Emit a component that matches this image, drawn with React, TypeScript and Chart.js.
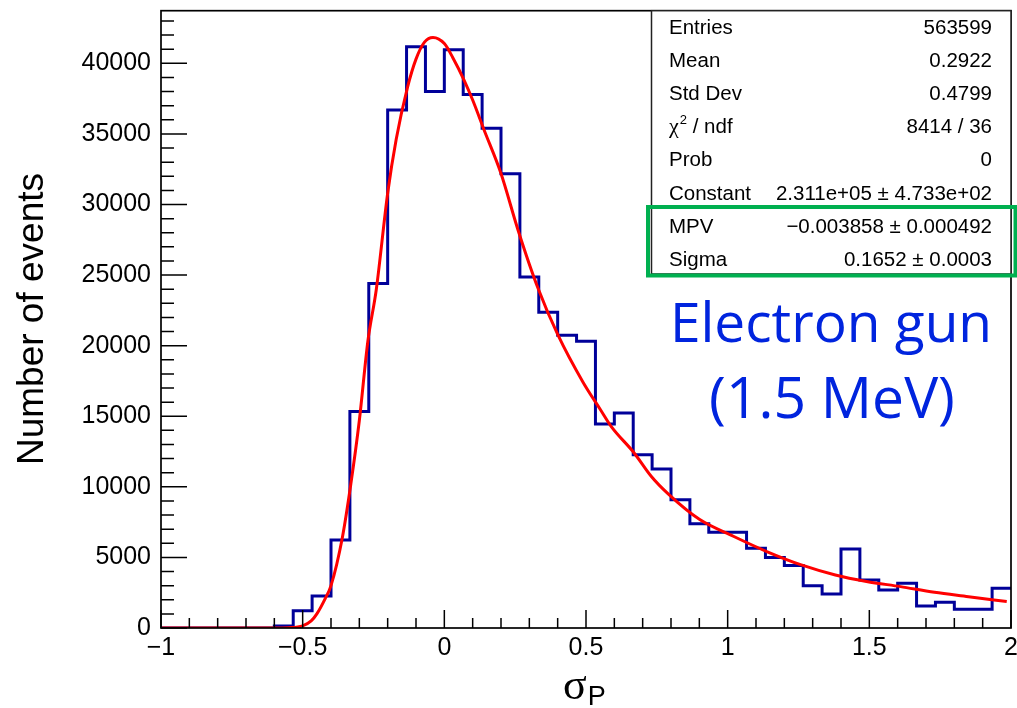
import React, { useEffect, useRef } from "react";
import { Chart, registerables } from "chart.js";

Chart.register(...registerables);

// ---------- data ----------
const X_MIN = -1;
const X_MAX = 2;
const Y_MAX = 43730;
const BIN_WIDTH = 1 / 15;

// histogram bin contents (45 bins of width 1/15 from -1 to 2)
const binCounts = [
  0, 0, 0, 0, 0, 0, 150, 1230, 2270, 6240,
  15340, 24400, 36700, 41180, 38010, 40970, 37800, 35410, 32180, 24870,
  22370, 20730, 20310, 14450, 15230, 12270, 11260, 9080, 7380, 6790,
  6790, 5650, 4990, 4420, 3000, 2410, 5600, 3400, 2700, 3170,
  1560, 1820, 1330, 1330, 2815,
];

// Landau fit curve
const fitX = [
  -1.0, -0.6, -0.55, -0.5, -0.47, -0.45, -0.42, -0.4, -0.36, -0.33,
  -0.3, -0.27, -0.24, -0.2, -0.17, -0.13, -0.1, -0.07, -0.04, 0.0,
  0.03, 0.07, 0.1, 0.14, 0.2, 0.26, 0.33, 0.4, 0.49, 0.55,
  0.59, 0.67, 0.73, 0.79, 0.9, 1.02, 1.14, 1.26, 1.38, 1.49,
  1.61, 1.73, 1.85, 1.985,
];
const fitY = [
  0, 0, 20, 150, 500, 1000, 2100, 3000, 6400, 10200,
  14700, 20300, 24000, 30800, 34600, 38300, 40300, 41500, 41830, 41400,
  40400, 38800, 37400, 35300, 32200, 28200, 24100, 20800, 17400, 15500,
  14250, 12400, 10750, 9500, 7700, 6500, 5400, 4470, 3760, 3300,
  2930, 2530, 2220, 1870,
];

const yTickValues = [0, 5000, 10000, 15000, 20000, 25000, 30000, 35000, 40000];
const xTickValues = [-1, -0.5, 0, 0.5, 1, 1.5, 2];
const yMinorStep = 1000;
const xMinorStep = 0.1;

const statsLabels = ["Entries", "Mean", "Std Dev", "CHI2", "Prob", "Constant", "MPV", "Sigma"];
const statsValues = [
  "563599",
  "0.2922",
  "0.4799",
  "8414 / 36",
  "0",
  "2.311e+05 \u00b1 4.733e+02",
  "\u22120.003858 \u00b1 0.000492",
  "0.1652 \u00b1 0.0003",
];

const annotationLines = ["Electron gun", "(1.5 MeV)"];
const yTitle = "Number of events";
const xTitleMain = "\u03c3";
const xTitleSub = "P";

const SANS = '"Liberation Sans", Arial, Helvetica, sans-serif';
const SERIF = '"Liberation Serif", "DejaVu Serif", serif';

const rootPlugin = {
  id: "rootDecor",
  afterDatasetsDraw(chart: any) {
    const ctx: CanvasRenderingContext2D = chart.ctx;
    const xs = chart.scales.x;
    const ys = chart.scales.y;
    const { left, right, top, bottom } = chart.chartArea;
    ctx.save();

    // ticks
    ctx.strokeStyle = "#000";
    ctx.lineWidth = 1.5;
    ctx.beginPath();
    const nY = Math.floor(Y_MAX / yMinorStep + 1e-9);
    for (let i = 0; i <= nY; i++) {
      const v = i * yMinorStep;
      const py = ys.getPixelForValue(v);
      const len = yTickValues.includes(v) ? 26 : 13;
      ctx.moveTo(left, py);
      ctx.lineTo(left + len, py);
    }
    const nX = Math.round((X_MAX - X_MIN) / xMinorStep);
    for (let i = 0; i <= nX; i++) {
      const v = X_MIN + i * xMinorStep;
      const px = xs.getPixelForValue(v);
      const len = i % 5 === 0 ? 18 : 10;
      ctx.moveTo(px, bottom);
      ctx.lineTo(px, bottom - len);
    }
    ctx.stroke();

    // frame
    ctx.lineWidth = 1.7;
    ctx.strokeRect(left, top, right - left, bottom - top);

    // stats box
    const bx = 651.5;
    const by = top;
    const bw = right - bx;
    const bh = 274 - top;
    ctx.fillStyle = "#fff";
    ctx.fillRect(bx, by, bw, bh);
    ctx.strokeStyle = "#222";
    ctx.lineWidth = 1.5;
    ctx.strokeRect(bx, by, bw, bh);

    ctx.fillStyle = "#000";
    const statFont = `20.5px ${SANS}`;
    ctx.font = statFont;
    ctx.textBaseline = "alphabetic";
    for (let i = 0; i < statsLabels.length; i++) {
      const yb = 34 + i * 33.1;
      ctx.textAlign = "left";
      if (statsLabels[i] === "CHI2") {
        ctx.font = `22px ${SERIF}`;
        ctx.fillText("\u03c7", 669, yb);
        const w1 = ctx.measureText("\u03c7").width;
        ctx.font = `13px ${SANS}`;
        ctx.fillText("2", 669 + w1 + 1, yb - 9);
        const w2 = ctx.measureText("2").width;
        ctx.font = statFont;
        ctx.fillText(" / ndf", 669 + w1 + w2 + 1, yb);
      } else {
        ctx.fillText(statsLabels[i], 669, yb);
      }
      ctx.textAlign = "right";
      ctx.fillText(statsValues[i], 992, yb);
    }

    // green highlight rectangle
    ctx.strokeStyle = "#00b050";
    ctx.lineWidth = 4;
    ctx.strokeRect(648, 207, 1015.5 - 648, 275.5 - 207);

    // annotation
    ctx.fillStyle = "rgb(0, 36, 222)";
    ctx.font = `55px "Open Sans", sans-serif`;
    ctx.textAlign = "center";
    ctx.fillText(annotationLines[0], 831, 342);
    ctx.font = `57px "Open Sans", sans-serif`;
    ctx.fillText(annotationLines[1], 832, 418);

    // y title
    ctx.fillStyle = "#000";
    ctx.save();
    ctx.translate(43, 319);
    ctx.rotate(-Math.PI / 2);
    ctx.font = `37px ${SANS}`;
    ctx.textAlign = "center";
    ctx.fillText(yTitle, 0, 0);
    ctx.restore();

    // x title
    ctx.font = `44px ${SERIF}`;
    ctx.textAlign = "left";
    const sw = ctx.measureText(xTitleMain).width;
    ctx.fillText(xTitleMain, 563, 699);
    ctx.font = `27px ${SANS}`;
    ctx.fillText(xTitleSub, 563 + sw + 1, 705);

    ctx.restore();
  },
};

export default function App() {
  const ref = useRef<HTMLCanvasElement | null>(null);

  useEffect(() => {
    if (!ref.current) return;
    const histPoints = binCounts.map((c, i) => ({ x: X_MIN + i * BIN_WIDTH, y: c }));
    histPoints.push({ x: X_MAX, y: binCounts[binCounts.length - 1] });
    const fitPoints = fitX.map((x, i) => ({ x, y: fitY[i] }));

    const chart = new Chart(ref.current, {
      type: "line",
      data: {
        datasets: [
          {
            label: "fit",
            data: fitPoints,
            borderColor: "#ff0000",
            borderWidth: 3,
            pointRadius: 0,
            fill: false,
            tension: 0.4,
            cubicInterpolationMode: "monotone",
            order: 0,
          },
          {
            label: "hist",
            data: histPoints,
            borderColor: "#000099",
            borderWidth: 3,
            pointRadius: 0,
            fill: false,
            stepped: "before",
            order: 1,
          },
        ],
      },
      options: {
        animation: false,
        responsive: false,
        devicePixelRatio: 1,
        layout: { padding: { left: 0, right: 6, top: 10.7, bottom: 0 } },
        plugins: {
          legend: { display: false },
          tooltip: { enabled: false },
          title: { display: false },
        },
        scales: {
          x: {
            type: "linear",
            min: X_MIN,
            max: X_MAX,
            grid: { display: false, drawTicks: false },
            border: { display: false },
            ticks: {
              autoSkip: false,
              maxRotation: 0,
              padding: 5,
              color: "#000",
              font: { family: SANS, size: 25 },
              callback: (v: any) => {
                const n = Number(v);
                const s = String(Math.round(Math.abs(n) * 100) / 100);
                return n < 0 ? "\u2212" + s : s;
              },
            },
            afterBuildTicks: (s: any) => {
              s.ticks = xTickValues.map((v) => ({ value: v }));
            },
            afterFit: (s: any) => {
              s.height = 80;
              s.paddingLeft = 0;
              s.paddingRight = 0;
            },
          },
          y: {
            type: "linear",
            min: 0,
            max: Y_MAX,
            grid: { display: false, drawTicks: false },
            border: { display: false },
            ticks: {
              autoSkip: false,
              padding: 10,
              color: "#000",
              font: { family: SANS, size: 25 },
              callback: (v: any) => String(v),
            },
            afterBuildTicks: (s: any) => {
              s.ticks = yTickValues.map((v) => ({ value: v }));
            },
            afterFit: (s: any) => {
              s.width = 161;
              s.paddingTop = 0;
              s.paddingBottom = 0;
            },
          },
        },
      },
      plugins: [rootPlugin],
    });
    return () => chart.destroy();
  }, []);

  return (
    <div style={{ position: "fixed", left: 0, top: 0, width: 1017, height: 708, background: "#fff" }}>
      <canvas ref={ref} width={1017} height={708} style={{ display: "block" }} />
    </div>
  );
}
